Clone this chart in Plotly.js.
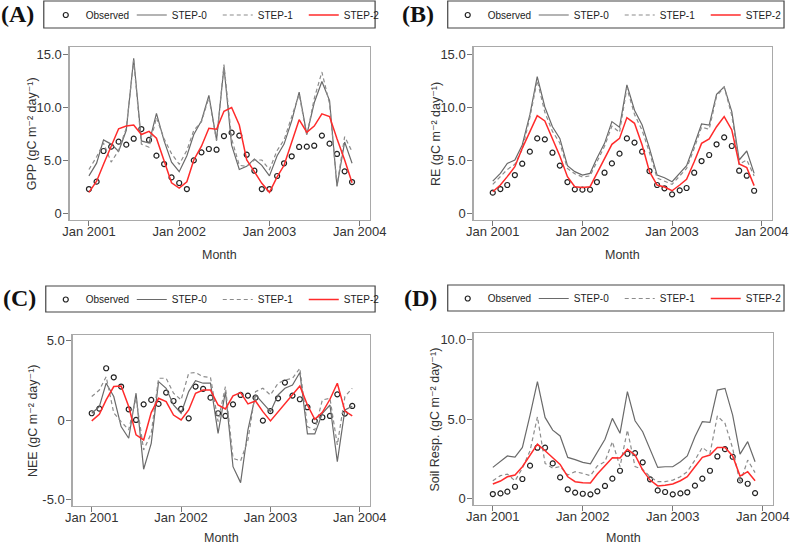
<!DOCTYPE html>
<html><head><meta charset="utf-8">
<script src="https://cdn.plot.ly/plotly-3.0.1.min.js"></script>
<style>html,body{margin:0;padding:0;background:#fff}#chart{width:792px;height:546px}</style>
</head><body><div id="chart"></div>
<script>
const months = ['2001-01-01','2001-02-01','2001-03-01','2001-04-01','2001-05-01','2001-06-01','2001-07-01','2001-08-01','2001-09-01','2001-10-01','2001-11-01','2001-12-01',
'2002-01-01','2002-02-01','2002-03-01','2002-04-01','2002-05-01','2002-06-01','2002-07-01','2002-08-01','2002-09-01','2002-10-01','2002-11-01','2002-12-01',
'2003-01-01','2003-02-01','2003-03-01','2003-04-01','2003-05-01','2003-06-01','2003-07-01','2003-08-01','2003-09-01','2003-10-01','2003-11-01','2003-12-01'];
const xTickVals = ['2001-01-01','2002-01-01','2003-01-01','2004-01-01'];
const xTickText = ['Jan 2001','Jan 2002','Jan 2003','Jan 2004'];
const seriesNames = ['Observed','STEP-0','STEP-1','STEP-2'];
const panelLabels = ['(A)','(B)','(C)','(D)'];
const yTitles = ['GPP (gC m⁻² day⁻¹)','RE (gC m⁻² day⁻¹)','NEE (gC m⁻² day⁻¹)','Soil Resp. (gC m⁻² day⁻¹)'];
const xTitle = 'Month';
const yTickVals = [[0,5,10,15],[0,5,10,15],[-5,0,5],[0,5,10]];
const yTickText = [['0','5.0','10.0','15.0'],['0','5.0','10.0','15.0'],['-5.0','0','5.0'],['0','5.0','10.0']];

// (A) GPP
const gppObs = [2.26,2.96,5.85,6.26,6.73,6.45,7.01,7.92,6.89,5.41,4.62,3.36,2.83,2.26,4.97,5.72,6.04,5.97,7.26,7.58,7.30,5.50,3.99,2.26,2.26,3.49,4.69,5.35,6.23,6.26,6.35,7.30,6.54,5.57,3.93,2.92];
const gppStep0 = [3.5,4.7,6.9,6.5,5.8,7.8,14.6,6.8,6.6,9.4,6.8,4.8,3.9,5.4,7.4,8.7,11.1,6.9,13.8,6.4,4.1,4.4,5.1,4.5,3.5,5.4,6.5,8.7,11.4,7.4,10.4,12.4,10.6,2.5,6.7,4.7];
const gppStep1 = [4.1,5.3,6.6,4.8,5.9,8.0,14.4,6.5,6.2,9.0,7.0,5.6,4.6,5.9,7.8,8.6,10.9,6.8,14.0,7.0,4.5,4.4,5.0,5.0,4.1,5.9,6.9,9.0,11.2,7.3,10.8,13.3,10.3,2.6,7.2,5.8];
const gppStep2 = [1.95,3.0,4.6,6.3,7.95,8.2,8.3,7.4,7.7,7.05,5.0,2.85,2.35,2.95,5.0,6.3,8.0,7.9,9.6,9.95,8.3,5.0,3.9,2.8,1.95,3.4,4.5,6.6,8.8,7.6,8.2,9.35,9.1,7.0,5.0,2.85];
// (B) RE
const reObs = [1.92,2.26,2.64,3.58,4.65,5.79,7.04,6.95,5.69,4.47,2.92,2.23,2.2,2.2,2.92,3.8,4.68,5.6,7.04,6.64,5.79,3.96,2.64,2.33,1.76,2.14,2.36,3.8,4.9,5.47,6.48,7.14,6.32,3.99,3.52,2.1];
const reStep0 = [3.0,3.74,4.68,5.0,6.42,9.25,12.86,10.0,8.14,7.04,4.47,3.9,3.58,3.74,5.16,6.57,8.62,8.1,12.08,9.7,8.3,6.1,3.58,3.33,2.95,3.74,4.47,6.42,8.4,8.3,11.2,11.9,9.56,5.0,5.85,3.74];
const reStep1 = [2.7,3.4,4.1,4.6,6.0,9.0,12.5,9.5,7.7,6.6,4.2,3.7,3.4,3.5,4.9,6.3,8.2,7.6,11.8,9.3,7.8,5.7,3.3,3.0,2.7,3.5,4.2,6.1,8.1,7.9,11.0,11.9,9.2,4.6,5.0,3.5];
const reStep2 = [2.0,2.64,3.43,4.37,6.1,7.6,9.18,8.68,6.95,5.38,3.43,2.48,2.4,2.48,3.74,5.16,6.48,7.04,9.0,8.46,6.42,3.9,2.64,2.45,2.1,2.64,3.18,4.84,6.57,6.98,8.14,9.09,7.83,4.62,4.28,2.58];
// (C) NEE
const neeObs = [0.44,0.73,3.27,2.7,2.12,0.69,0.02,1.0,1.28,1.03,1.74,1.21,0.71,0.12,2.12,1.97,1.42,0.44,0.27,1.0,1.59,1.55,1.42,-0.02,0.58,1.38,2.37,1.55,1.32,0.82,-0.04,0.19,0.27,1.63,0.42,0.9];
const neeStep0 = [0.44,0.86,2.33,1.49,-0.4,-1.13,1.7,-3.08,-1.45,2.43,2.01,0.96,0.44,1.8,2.49,2.33,2.33,-0.82,1.8,-2.92,-3.92,-0.61,1.59,1.07,0.54,1.59,2.01,2.22,3.0,-0.86,-0.86,0.44,0.96,-2.6,0.65,0.88];
const neeStep1 = [1.49,1.9,2.74,0.46,-0.08,-0.61,1.4,-1.87,-0.82,2.64,2.64,1.7,1.28,2.96,3.0,2.74,2.7,-0.08,2.12,-2.39,-2.56,-1.24,1.8,2.01,1.59,2.33,2.53,2.64,3.27,-0.4,-0.61,1.28,1.38,-1.55,1.49,2.01];
const neeStep2 = [-0.04,0.38,1.28,2.12,2.15,0.86,-0.92,-1.24,0.48,1.38,1.17,0.33,0.02,0.65,1.7,1.9,1.9,0.96,0.71,1.53,1.74,1.03,1.21,0.54,-0.04,0.54,1.07,1.59,2.16,0.96,0.06,0.5,1.32,2.33,0.58,0.27];
// (D) Soil respiration
const soilObs = [0.27,0.31,0.42,0.73,1.22,2.06,3.19,3.19,2.2,1.32,0.57,0.36,0.29,0.25,0.44,0.78,1.24,1.74,2.81,2.85,2.27,1.2,0.5,0.4,0.25,0.31,0.38,0.8,1.24,1.74,2.64,3.1,2.62,1.13,0.92,0.33];
const soilStep0 = [1.95,2.31,2.67,2.6,3.21,5.25,7.35,5.1,4.3,3.93,2.58,2.44,2.27,2.17,2.94,3.72,5.04,4.1,6.72,4.89,4.2,3.09,1.95,1.99,1.99,2.31,2.67,3.88,4.83,4.79,6.82,6.93,5.25,2.79,3.57,2.31];
const soilStep1 = [1.11,1.43,1.53,1.1,1.9,3.0,5.14,2.2,1.9,2.0,1.47,1.68,1.57,1.43,2.04,2.31,3.57,2.0,4.3,2.0,1.83,1.36,1.05,1.05,1.15,1.36,1.68,2.41,3.21,2.83,5.19,4.72,3.15,0.95,2.41,1.62];
const soilStep2 = [0.9,1.09,1.36,1.47,1.99,2.73,3.42,3.0,2.56,2.14,1.36,1.05,0.99,0.97,1.53,2.04,2.56,2.54,3.09,2.73,1.78,1.15,0.78,0.82,0.9,1.11,1.36,1.99,2.58,2.73,3.21,3.21,2.67,1.4,1.68,1.11];

const panelSeries = [
  [gppObs, gppStep0, gppStep1, gppStep2],
  [reObs, reStep0, reStep1, reStep2],
  [neeObs, neeStep0, neeStep1, neeStep2],
  [soilObs, soilStep0, soilStep1, soilStep2]
];

// ---- layout geometry (pixels) ----
const W = 792, H = 546;
const plotBox = [
  {l:70, r:372, t:47, b:220},
  {l:476, r:776, t:47, b:220},
  {l:73, r:372, t:335, b:506},
  {l:476, r:777, t:333, b:505}
];
const yRanges = [[-0.66,15.66],[-0.66,15.66],[-5.39,5.36],[-0.42,10.42]];
const xRange = ['2000-10-15','2004-02-12'];
const legBox = [
  {l:44, r:377, t:1, b:28},
  {l:450, r:788, t:1, b:28},
  {l:46, r:377, t:286, b:312},
  {l:450, r:788, t:285, b:311}
];
const legSym = [{x:66,y:15},{x:470,y:15},{x:66,y:299.5},{x:470,y:298.5}];
const labelPos = [{x:17.5,y:14},{x:420,y:13.5},{x:19.5,y:298},{x:422.5,y:298}];
const xTitlePos = [{x:221,y:255},{x:626,y:255},{x:222.5,y:538},{x:626.5,y:538}];
const yTitlePos = [{x:32,y:133.5},{x:437.7,y:133.5},{x:32.7,y:420.5},{x:437.7,y:419}];

const px = v => v / W, py = v => 1 - v / H;
const FONT = 'Liberation Sans, Arial, DejaVu Sans, sans-serif';
const styles = [
  {mode:'markers', marker:{symbol:'circle-open', size:5, color:'#222', line:{width:1.2, color:'#222'}}},
  {mode:'lines', line:{color:'#6a6a6a', width:1.2}},
  {mode:'lines', line:{color:'#8c8c8c', width:1.2, dash:'4px,3px'}},
  {mode:'lines', line:{color:'#ff2b2b', width:1.5}}
];

const data = [];
const layout = {
  width: W, height: H,
  margin: {l:0, r:0, t:0, b:0},
  paper_bgcolor: '#fff', plot_bgcolor: '#fff',
  font: {family: FONT, color: '#222', size: 13},
  shapes: [], annotations: []
};

for (let p = 0; p < 4; p++) {
  const sfx = p === 0 ? '' : String(p + 1);
  const legName = 'legend' + sfx;
  for (let s = 0; s < 4; s++) {
    data.push(Object.assign({
      type: 'scatter', x: months, y: panelSeries[p][s], name: seriesNames[s],
      xaxis: 'x' + sfx, yaxis: 'y' + sfx, legend: legName, showlegend: true,
      hoverinfo: 'skip'
    }, JSON.parse(JSON.stringify(styles[s]))));
  }
  const b = plotBox[p];
  layout['xaxis' + sfx] = {
    type: 'date', domain: [px(b.l), px(b.r)], anchor: 'y' + sfx, range: xRange,
    tickvals: xTickVals, ticktext: xTickText, showgrid: false, zeroline: false,
    showline: true, mirror: true, linecolor: '#a9a9a9', linewidth: 1.3,
    ticks: 'outside', ticklen: 5, tickwidth: 1, tickcolor: '#777', ticklabelstandoff: -6,
    tickfont: {size: 13, color: '#333', family: FONT}, fixedrange: true
  };
  layout['yaxis' + sfx] = {
    domain: [py(b.b), py(b.t)], anchor: 'x' + sfx, range: yRanges[p],
    tickvals: yTickVals[p], ticktext: yTickText[p], showgrid: false, zeroline: false,
    showline: true, mirror: true, linecolor: '#a9a9a9', linewidth: 1.3,
    ticks: 'outside', ticklen: 5, tickwidth: 1, tickcolor: '#777', ticklabelstandoff: -1,
    tickfont: {size: 13, color: '#333', family: FONT}, fixedrange: true
  };
  layout[legName] = {
    orientation: 'h', x: px(legSym[p].x - 20), xanchor: 'left', y: py(legSym[p].y), yanchor: 'middle',
    bgcolor: 'rgba(0,0,0,0)', borderwidth: 0, font: {size: 10, color: '#222', family: FONT},
    entrywidth: 41, entrywidthmode: 'pixels', itemwidth: 30, traceorder: 'normal', itemclick: false, itemdoubleclick: false
  };
  const lb = legBox[p];
  layout.shapes.push({type: 'rect', xref: 'paper', yref: 'paper', x0: px(lb.l), x1: px(lb.r), y0: py(lb.b), y1: py(lb.t),
    line: {color: '#444', width: 1.2}, fillcolor: 'rgba(0,0,0,0)'});
  layout.annotations.push({text: panelLabels[p], xref: 'paper', yref: 'paper', x: px(labelPos[p].x), y: py(labelPos[p].y),
    xanchor: 'center', yanchor: 'middle', showarrow: false, font: {family: 'Liberation Serif, DejaVu Serif, serif', size: 24, color: '#111', weight: 'bold'}});
  layout.annotations.push({text: xTitle, xref: 'paper', yref: 'paper', x: px(xTitlePos[p].x), y: py(xTitlePos[p].y),
    xanchor: 'center', yanchor: 'middle', showarrow: false, font: {size: 12.5, color: '#333', family: FONT}});
  layout.annotations.push({text: yTitles[p], xref: 'paper', yref: 'paper', x: px(yTitlePos[p].x), y: py(yTitlePos[p].y),
    xanchor: 'center', yanchor: 'middle', textangle: -90, showarrow: false, font: {size: 12.5, color: '#333', family: FONT}});
}

Plotly.newPlot('chart', data, layout, {displayModeBar: false, staticPlot: true});
</script>
</body></html>
